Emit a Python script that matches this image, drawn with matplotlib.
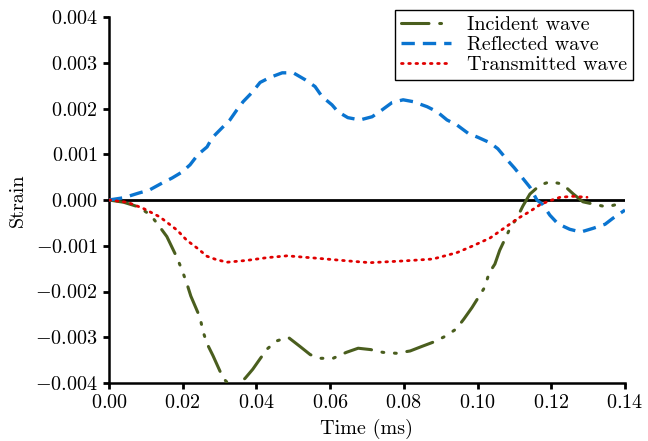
import numpy as np
import matplotlib
matplotlib.use("Agg")
import matplotlib.pyplot as plt
from matplotlib.ticker import FuncFormatter, MultipleLocator

plt.rcParams["font.family"] = "serif"
plt.rcParams["font.serif"] = ["cmr10"]
plt.rcParams["mathtext.fontset"] = "cm"
plt.rcParams["axes.formatter.use_mathtext"] = True

# time in ms, strain in units of 1e-3
t_inc = [0, 0.004, 0.008, 0.0113, 0.0136, 0.0157, 0.0185, 0.0198, 0.0211, 0.0222,
         0.0247, 0.0255, 0.0266, 0.0282, 0.031, 0.0335, 0.0369, 0.039, 0.041, 0.043,
         0.0455, 0.0486, 0.0518, 0.0546, 0.0573, 0.0608, 0.0644, 0.0676, 0.071, 0.0743,
         0.0779, 0.0817, 0.0849, 0.0882, 0.0912, 0.0942, 0.0963, 0.0985, 0.102, 0.1031,
         0.1047, 0.106, 0.1088, 0.1107, 0.1123, 0.1142, 0.117, 0.1197, 0.123, 0.126,
         0.1286, 0.132, 0.135, 0.1387]
s_inc = [0, -0.05, -0.15, -0.33, -0.57, -0.8, -1.27, -1.53, -1.82, -2.1,
         -2.57, -2.87, -3.14, -3.4, -3.9, -4.1, -3.9, -3.7, -3.47, -3.25,
         -3.08, -3.0, -3.2, -3.38, -3.46, -3.46, -3.33, -3.24, -3.27, -3.33,
         -3.35, -3.3, -3.2, -3.1, -2.98, -2.82, -2.6, -2.35, -1.9, -1.6,
         -1.4, -1.1, -0.62, -0.39, -0.13, 0.13, 0.33, 0.4, 0.35, 0.13,
         -0.04, -0.1, -0.15, -0.08]

t_ref = [0, 0.004, 0.008, 0.011, 0.0144, 0.0171, 0.0198, 0.022, 0.0241, 0.0266,
         0.028, 0.0307, 0.0328, 0.0347, 0.0364, 0.0388, 0.041, 0.0437, 0.047, 0.050,
         0.0532, 0.0559, 0.0578, 0.0605, 0.0621, 0.0648, 0.0681, 0.0714, 0.0741, 0.0768,
         0.0798, 0.0825, 0.0863, 0.089, 0.0917, 0.0944, 0.0974, 0.1001, 0.1034, 0.1055,
         0.108, 0.110, 0.112, 0.1142, 0.1161, 0.1177, 0.1196, 0.1218, 0.125, 0.128,
         0.1313, 0.1346, 0.1367, 0.1400]
s_ref = [0, 0.05, 0.15, 0.22, 0.37, 0.48, 0.61, 0.77, 0.99, 1.16,
         1.36, 1.58, 1.75, 1.97, 2.15, 2.35, 2.57, 2.68, 2.78, 2.78,
         2.63, 2.48, 2.26, 2.08, 1.93, 1.8, 1.75, 1.82, 1.97, 2.13,
         2.19, 2.15, 2.04, 1.93, 1.75, 1.64, 1.46, 1.37, 1.25, 1.12,
         0.88, 0.70, 0.5, 0.28, 0.0, -0.1, -0.33, -0.52, -0.64, -0.7,
         -0.62, -0.53, -0.4, -0.22]

t_tra = [0, 0.005, 0.0092, 0.0138, 0.0185, 0.0211, 0.0239, 0.0266, 0.029, 0.032,
         0.0374, 0.0429, 0.0483, 0.056, 0.0646, 0.0708, 0.0803, 0.0879, 0.0944, 0.0988,
         0.1034, 0.108, 0.111, 0.1142, 0.117, 0.1191, 0.1224, 0.1259, 0.1297]
s_tra = [0, -0.05, -0.18, -0.37, -0.66, -0.88, -1.05, -1.23, -1.3, -1.36,
         -1.32, -1.26, -1.22, -1.27, -1.33, -1.37, -1.33, -1.29, -1.15, -1.0,
         -0.83, -0.57, -0.4, -0.25, -0.1, -0.03, 0.06, 0.08, 0.06]

fig = plt.figure(figsize=(6.48, 4.41), dpi=100)
ax = fig.add_axes([109 / 648, 58 / 441, 516 / 648, 366 / 441])

ax.axhline(0, color="black", lw=2, zorder=1)

ax.plot(t_inc, np.array(s_inc) * 1e-3, color="#4a5e1e", lw=2.2,
        linestyle=(0, (9, 3.5, 0.6, 3.5, 0.6, 3.5)), dash_capstyle="round",
        label="Incident wave", zorder=3)
ax.plot(t_ref, np.array(s_ref) * 1e-3, color="#0a74d0", lw=2.4,
        linestyle=(0, (4, 2.4)), label="Reflected wave", zorder=3)
ax.plot(t_tra, np.array(s_tra) * 1e-3, color="#e00000", lw=2.0,
        linestyle=(0, (0.6, 2.0)), dash_capstyle="round",
        label="Transmitted wave", zorder=3)

ax.set_xlim(0, 0.14)
ax.set_ylim(-0.004, 0.004)
ax.xaxis.set_major_locator(MultipleLocator(0.02))
ax.yaxis.set_major_locator(MultipleLocator(0.001))
ax.xaxis.set_major_formatter(FuncFormatter(lambda v, p: f"${v:.2f}$"))
ax.yaxis.set_major_formatter(FuncFormatter(lambda v, p: f"${v:.3f}$"))

for s in ["top", "right"]:
    ax.spines[s].set_visible(False)
for s in ["left", "bottom"]:
    ax.spines[s].set_linewidth(1.8)
ax.tick_params(direction="out", length=4, width=2, labelsize=14.5, pad=4)

ax.set_xlabel("Time (ms)", fontsize=14.5, labelpad=5)
ax.set_ylabel("Strain", fontsize=14.5, labelpad=6)

leg = ax.legend(loc="upper right", bbox_to_anchor=(1.016, 1.02), borderaxespad=0,
                fontsize=14.5, fancybox=False, edgecolor="black", framealpha=1,
                handlelength=2.5, labelspacing=0.1, borderpad=0.3,
                handletextpad=0.8)
leg.get_frame().set_linewidth(1.0)

fig.savefig("out.png", dpi=100)
